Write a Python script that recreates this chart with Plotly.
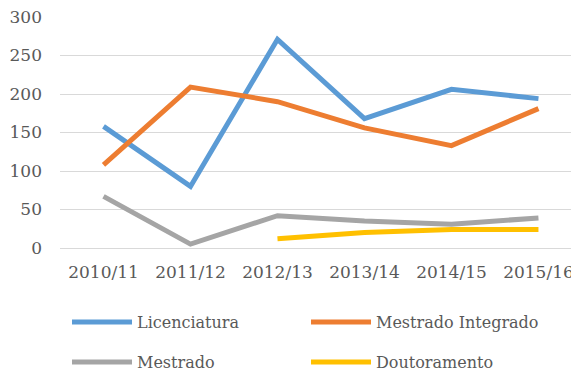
import plotly.graph_objects as go

# Academic years
anos = ["2010/11", "2011/12", "2012/13", "2013/14", "2014/15", "2015/16"]

# Number of students per degree level
licenciatura = [158, 80, 271, 168, 206, 194]
mestrado_integrado = [108, 209, 190, 156, 133, 181]
mestrado = [67, 5, 42, 35, 31, 39]
doutoramento = [None, None, 12, 20, 24, 24]

series = [
    ("Licenciatura", licenciatura, "#5B9BD5", "legend"),
    ("Mestrado Integrado", mestrado_integrado, "#ED7D31", "legend"),
    ("Mestrado", mestrado, "#A5A5A5", "legend2"),
    ("Doutoramento", doutoramento, "#FFC000", "legend2"),
]

FONT = "DejaVu Serif"
TXT = "#595959"
FS = 17

fig = go.Figure()
for nome, valores, cor, leg in series:
    fig.add_trace(go.Scatter(
        x=anos, y=valores, name=nome, mode="lines",
        line=dict(color=cor, width=5),
        connectgaps=False, legend=leg,
    ))

legend_common = dict(
    orientation="h", xref="container", yref="container",
    xanchor="left", yanchor="middle",
    font=dict(family=FONT, size=16, color=TXT),
    entrywidth=164, entrywidthmode="pixels",
    itemwidth=60, bgcolor="rgba(0,0,0,0)",
)

fig.update_layout(
    width=571, height=374,
    margin=dict(l=60, r=0, t=17, b=126, autoexpand=False),
    paper_bgcolor="white", plot_bgcolor="white",
    font=dict(family=FONT, size=FS, color=TXT),
    showlegend=True,
    legend=dict(x=67 / 571, y=1 - 322 / 374, **legend_common),
    legend2=dict(x=67 / 571, y=1 - 362 / 374, **legend_common),
    xaxis=dict(
        type="category", range=[-0.5, 5.374],
        showgrid=False, showline=False, ticks="",
        ticklabelstandoff=12,
        tickfont=dict(family=FONT, size=FS, color=TXT),
    ),
    yaxis=dict(
        range=[0, 300], dtick=50,
        showgrid=True, gridcolor="#D9D9D9", gridwidth=1.3,
        zeroline=True, zerolinecolor="#D9D9D9", zerolinewidth=1.3,
        showline=False, ticks="", ticklabelstandoff=17,
        tickfont=dict(family=FONT, size=FS, color=TXT),
    ),
)

fig.write_html("out.html")
